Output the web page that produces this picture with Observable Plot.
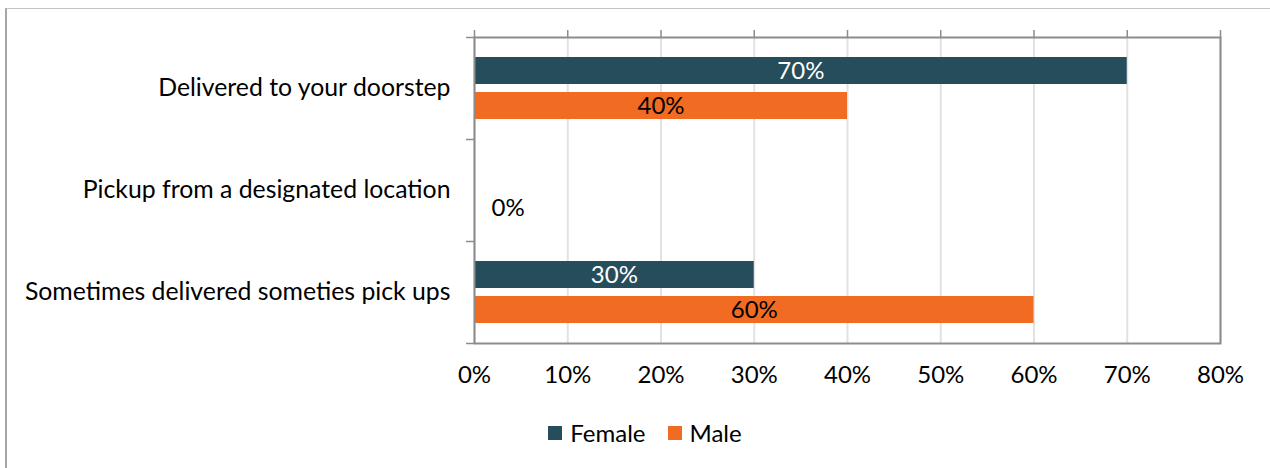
<!DOCTYPE html>
<html>
<head>
<meta charset="utf-8">
<script src="https://cdn.jsdelivr.net/npm/d3@7"></script>
<script src="https://cdn.jsdelivr.net/npm/@observablehq/plot@0.6"></script>
<style>
  html, body { margin: 0; padding: 0; background: #fff; }
  #wrap { position: relative; width: 1270px; height: 468px; overflow: hidden; font-family: Lato, "Open Sans", sans-serif; }
  #border { position: absolute; left: 5px; top: 8px; right: -2px; bottom: -2px;
            border-left: 2px solid #a6a6a6; border-top: 1px solid #c4c4c4; }
  #chart { position: absolute; left: 0; top: 0; }
  #legend { position: absolute; top: 418px; left: 0; width: 1270px; display: flex; justify-content: center;
            font-size: 24px; line-height: 30px; color: #000; padding-left: 20px; box-sizing: border-box; }
  .sw { display: inline-flex; align-items: center; }
  .sw + .sw { margin-left: 22px; }
  .sw i { display: inline-block; width: 14px; height: 14px; margin-right: 8px; }
</style>
</head>
<body>
<div id="wrap">
  <div id="border"></div>
  <div id="chart"></div>
  <div id="legend"></div>
</div>
<script>
// Survey responses: how deliveries are received, by gender
const categories = [
  "Delivered to your doorstep",
  "Pickup from a designated location",
  "Sometimes delivered someties pick ups"
];
const female = [0.70, 0.00, 0.30];
const male = [0.40, 0.00, 0.60];
const xTicks = [0, 0.1, 0.2, 0.3, 0.4, 0.5, 0.6, 0.7, 0.8];
const seriesNames = ["Female", "Male"];
const seriesColors = ["#254d5b", "#f26b23"];

const W = 1270, H = 410;
const mt = 37, mb = 67, ml = 474, mr = 50;
const band = (H - mt - mb) / categories.length;
const barH = 27, gap = 8;
const inset = (band - barH) / 2;
const off = (barH + gap) / 2;
const FS = 24;

const fRows = categories.map((c, i) => ({c, v: female[i]}));
const mRows = categories.map((c, i) => ({c, v: male[i]}));
const pct = d3.format(".0%");

// value labels: centred inside each bar; zero-length bars get theirs just right of the axis
const labelMarks = (rows, color, shift) => [
  Plot.text(rows.filter(d => d.v > 0), {
    x: d => d.v / 2, y: "c", text: d => pct(d.v), dy: shift,
    fill: color, fontSize: FS, textAnchor: "middle"
  }),
  Plot.text(rows.filter(d => d.v === 0), {
    x: 0, y: "c", text: d => pct(d.v), dy: shift, dx: 17,
    fill: color, fontSize: FS, textAnchor: "start"
  })
];

const chart = Plot.plot({
  width: W, height: H,
  marginTop: mt, marginBottom: mb, marginLeft: ml, marginRight: mr,
  style: {fontFamily: "Lato, 'Open Sans', sans-serif", background: "transparent", color: "#000"},
  x: {domain: [0, 0.8]},
  y: {domain: categories, padding: 0},
  marks: [
    Plot.gridX(xTicks, {stroke: "#e2e2e2", strokeOpacity: 1, strokeWidth: 2}),
    Plot.barX(fRows, {x: "v", y: "c", fill: seriesColors[0], insetTop: inset - off, insetBottom: inset + off}),
    Plot.barX(mRows, {x: "v", y: "c", fill: seriesColors[1], insetTop: inset + off, insetBottom: inset - off}),
    ...labelMarks(fRows, "#ffffff", -off),
    ...labelMarks(mRows, "#000000", off),
    Plot.frame({stroke: "#8c8c8c", strokeWidth: 2}),
    Plot.axisX(xTicks, {anchor: "top", tickSize: 8, tickFormat: () => "", stroke: "#8c8c8c", strokeWidth: 1.5, label: null}),
    Plot.axisX(xTicks, {anchor: "bottom", tickSize: 0, tickPadding: 22, tickFormat: pct, fontSize: FS, fill: "#000", label: null}),
    Plot.axisY(categories, {anchor: "left", tickSize: 0, tickPadding: 24, fontSize: 24.8, fill: "#000", label: null}),
    Plot.axisY(categories, {anchor: "left", tickSize: 8, tickFormat: () => "", dy: -band / 2, stroke: "#8c8c8c", strokeWidth: 1.5, label: null}),
    Plot.axisY(categories.slice(-1), {anchor: "left", tickSize: 8, tickFormat: () => "", dy: band / 2, stroke: "#8c8c8c", strokeWidth: 1.5, label: null})
  ]
});
document.getElementById("chart").append(chart);

const legend = document.getElementById("legend");
seriesNames.forEach((n, i) => {
  const s = document.createElement("span");
  s.className = "sw";
  const box = document.createElement("i");
  box.style.background = seriesColors[i];
  s.append(box, document.createTextNode(n));
  legend.append(s);
});
</script>
</body>
</html>
